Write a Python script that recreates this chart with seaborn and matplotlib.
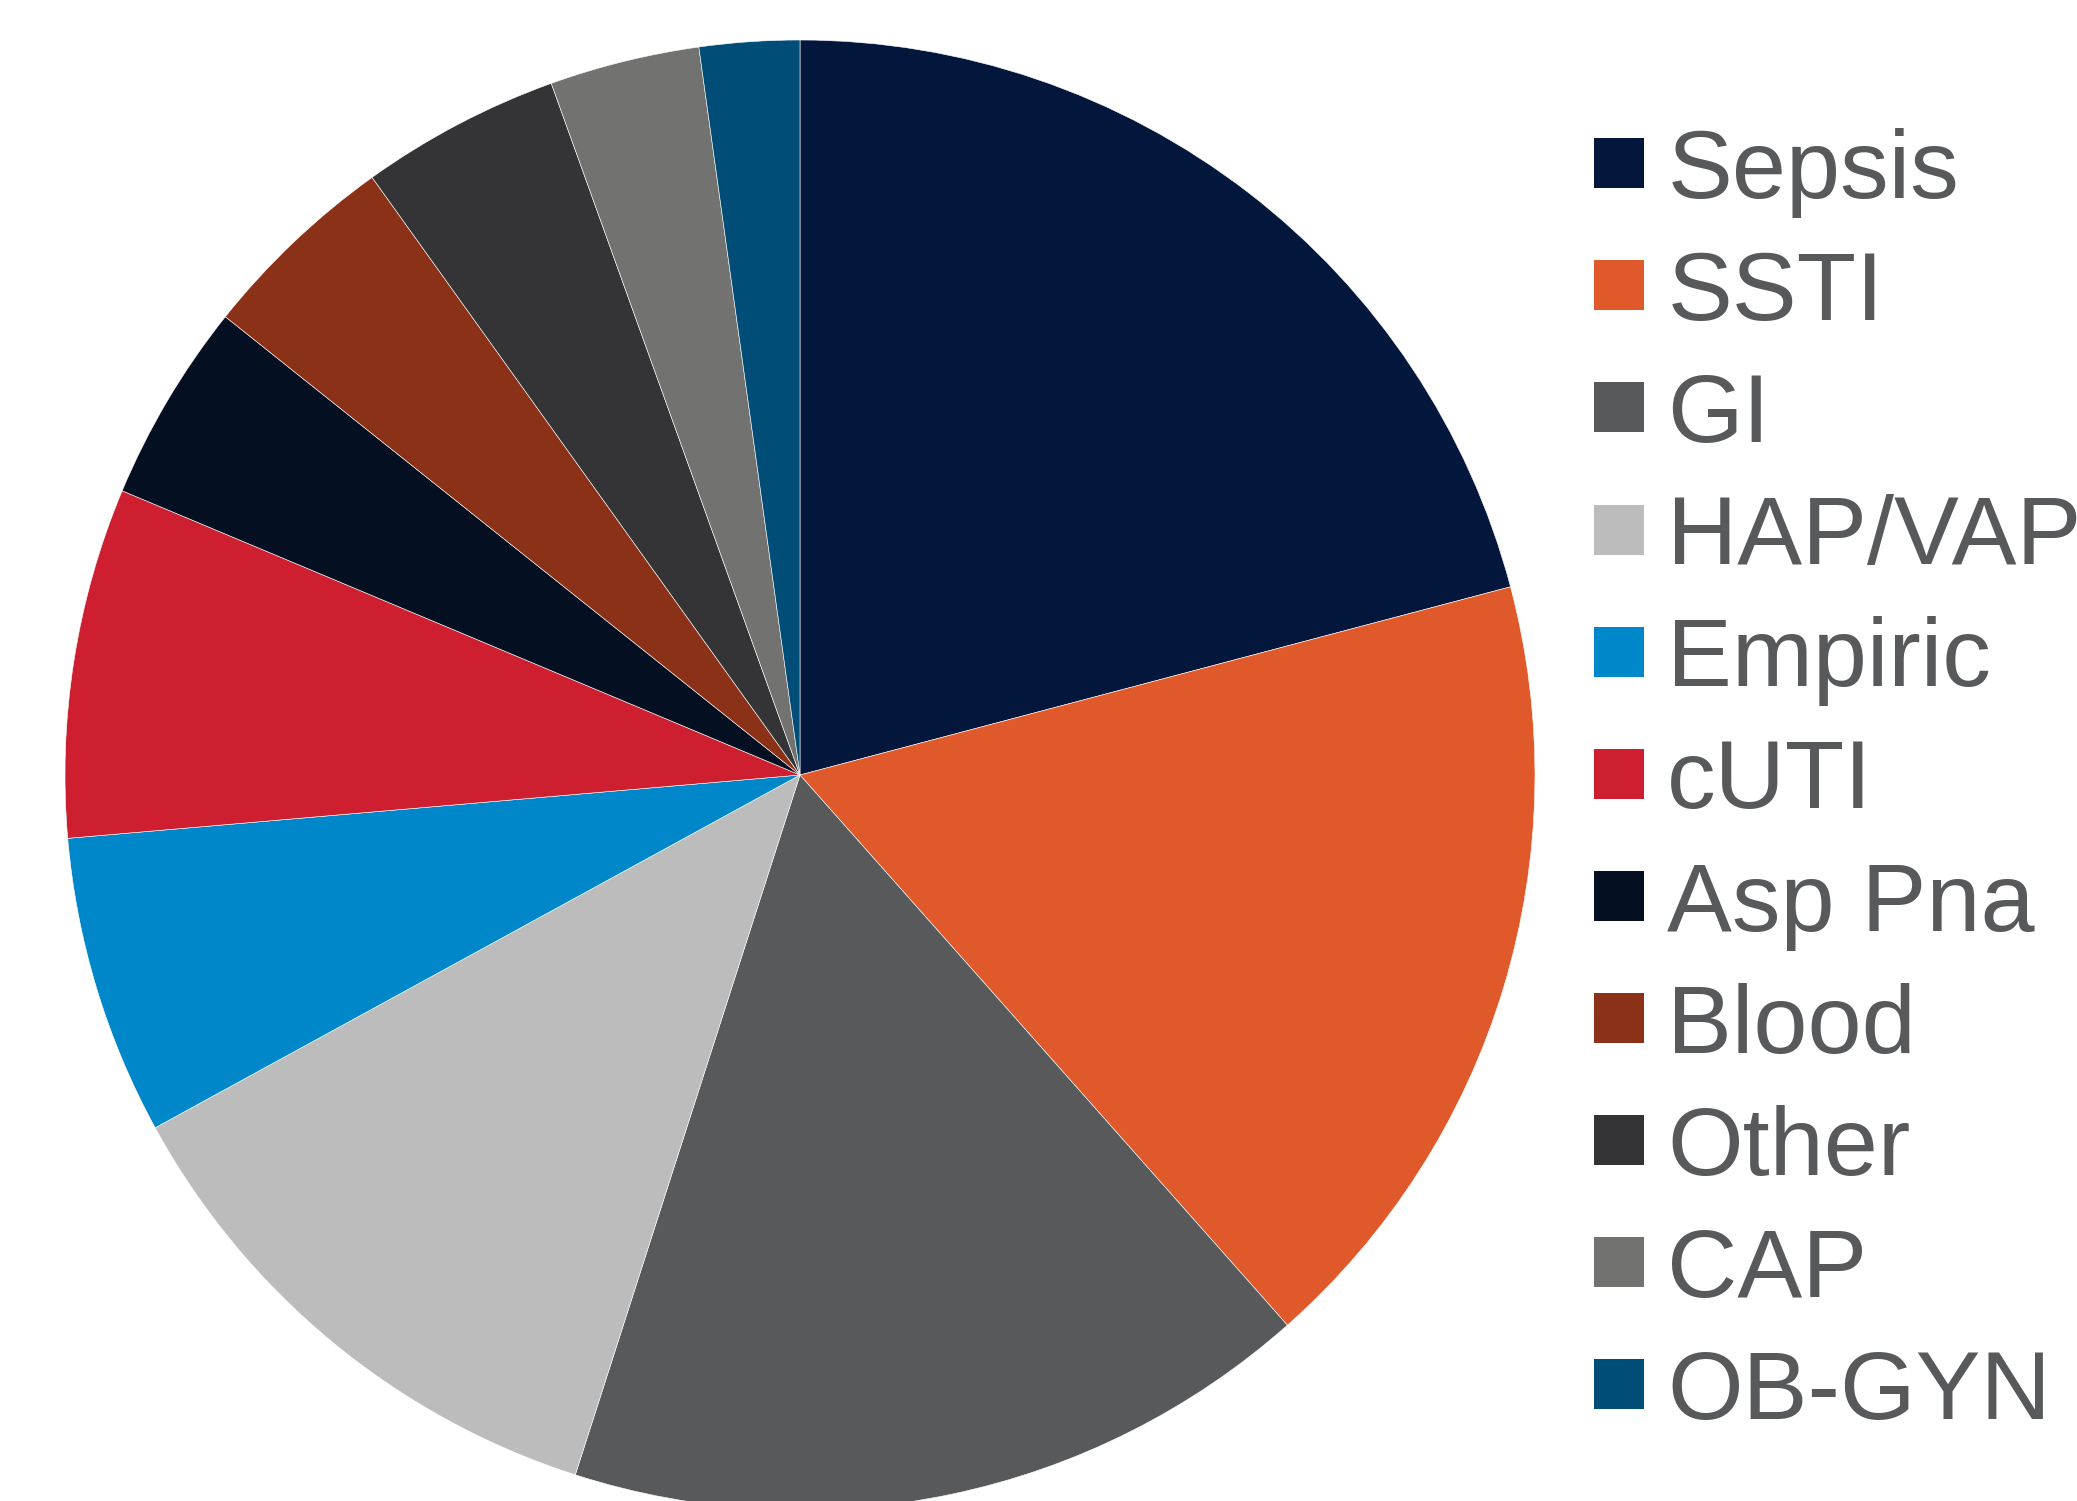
import matplotlib
matplotlib.use("Agg")
import matplotlib.pyplot as plt
import seaborn as sns

# Infection sources (case counts)
categories = ["Sepsis", "SSTI", "GI", "HAP/VAP", "Empiric", "cUTI",
              "Asp Pna", "Blood", "Other", "CAP", "OB-GYN"]
counts = [19, 16, 15, 11, 6, 7, 4, 4, 4, 3, 2]
colors = ["#03173D", "#E0592A", "#58595B", "#BBBCBB", "#0087C9", "#CD1F30",
          "#040F22", "#8A3117", "#343436", "#727371", "#004D77"]

sns.set_theme(style="white")
plt.rcParams["font.family"] = ["Liberation Sans", "DejaVu Sans"]

W, H, DPI = 2077, 1501, 100
fig = plt.figure(figsize=(W / DPI, H / DPI), dpi=DPI)
fig.patch.set_facecolor("white")
ax = fig.add_axes([0, 0, 1, 1])

# pie centre / radius in pixels
cx, cy_top, r = 800, 775, 735
cy = H - cy_top

wedges, _ = ax.pie(counts, colors=colors, startangle=90, counterclock=False,
                   radius=1.0, center=(0, 0),
                   wedgeprops=dict(edgecolor="white", linewidth=0.4))
ax.set_xlim(-cx / r, (W - cx) / r)
ax.set_ylim(-cy / r, (H - cy) / r)
ax.set_aspect("equal")
ax.axis("off")

fs = 70
leg = ax.legend(wedges, categories, loc="upper left",
                bbox_to_anchor=(1594 / W, 1 - 128 / H),
                bbox_transform=fig.transFigure,
                frameon=False, fontsize=fs, borderpad=0, borderaxespad=0,
                handlelength=0.514, handleheight=0.414, handletextpad=0.24,
                labelspacing=0.33)
for t in leg.get_texts():
    t.set_color("#58595B")
for h in leg.legend_handles:
    h.set_linewidth(0)

fig.savefig("out.png", dpi=DPI, facecolor="white")
